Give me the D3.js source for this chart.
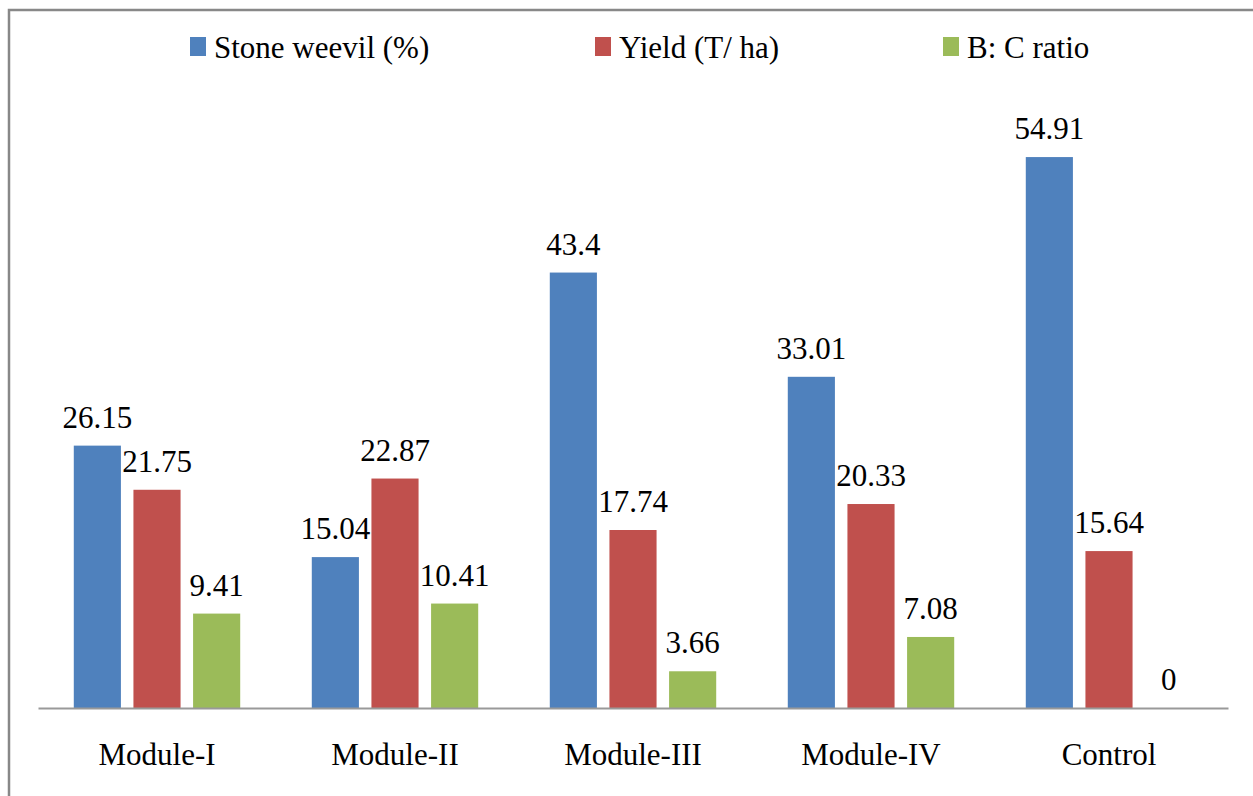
<!DOCTYPE html>
<html><head><meta charset="utf-8">
<script src="https://cdn.jsdelivr.net/npm/d3@7"></script>
<style>body{margin:0;background:#fff;font-family:"Liberation Serif","Times New Roman",serif}svg{display:block}</style>
</head><body>
<script>
const categories = ["Module-I","Module-II","Module-III","Module-IV","Control"];
const seriesNames = ["Stone weevil (%)","Yield (T/ ha)","B: C ratio"];
const stoneWeevil = [26.15,15.04,43.4,33.01,54.91];
const yieldTha = [21.75,22.87,17.74,20.33,15.64];
const bcRatio = [9.41,10.41,3.66,7.08,0];
const colors = ["#4F81BD","#C0504D","#9BBB59"];

const W=1253,H=796;
const FONT='"Liberation Serif","Times New Roman",serif';
const FS=31;
const svg=d3.select("body").append("svg").attr("width",W).attr("height",H).style("font-family",FONT);
svg.append("path").attr("d",`M9,${H} L9,10 L${W+2},10`).attr("fill","none").attr("stroke","#888").attr("stroke-width",2.5);

const x0=d3.scaleBand().domain(categories).range([38,1228]).paddingInner(0).paddingOuter(0);
const x1=d3.scaleBand().domain(seriesNames).range([0,x0.bandwidth()]).paddingInner(0.21).paddingOuter(0.6);
const y=d3.scaleLinear().domain([0,60]).range([708,106]);

const series=[stoneWeevil,yieldTha,bcRatio];
const data=[];
categories.forEach((c,i)=>seriesNames.forEach((s,j)=>data.push({c,s,j,v:series[j][i]})));

svg.selectAll("rect.bar").data(data).enter().append("rect").attr("class","bar")
 .attr("x",d=>x0(d.c)+x1(d.s)).attr("width",x1.bandwidth())
 .attr("y",d=>y(d.v)).attr("height",d=>y(0)-y(d.v)).attr("fill",d=>colors[d.j]);

svg.selectAll("text.val").data(data).enter().append("text").attr("class","val")
 .attr("x",d=>x0(d.c)+x1(d.s)+x1.bandwidth()/2).attr("y",d=>y(d.v)-18)
 .attr("text-anchor","middle").attr("font-size",FS).style("font-family",FONT).attr("fill","#000").text(d=>d.v);

const ax=svg.append("g").attr("transform","translate(0,708)").call(d3.axisBottom(x0).tickSize(0).tickPadding(0));
ax.attr("font-family",null).attr("font-size",null);
ax.select(".domain").attr("stroke","#999").attr("stroke-width",2);
ax.selectAll("text").attr("font-size",FS).style("font-family",FONT).attr("fill","#000").attr("dy",0).attr("y",57);

const legX=[190,595,943];
const lg=svg.selectAll("g.leg").data(seriesNames).enter().append("g").attr("class","leg")
 .attr("transform",(d,i)=>`translate(${legX[i]},0)`);
lg.append("rect").attr("x",0).attr("y",37).attr("width",16).attr("height",19).attr("fill",(d,i)=>colors[i]);
lg.append("text").attr("x",24).attr("y",58).attr("font-size",FS).style("font-family",FONT).attr("fill","#000").text(d=>d);
</script></body></html>
